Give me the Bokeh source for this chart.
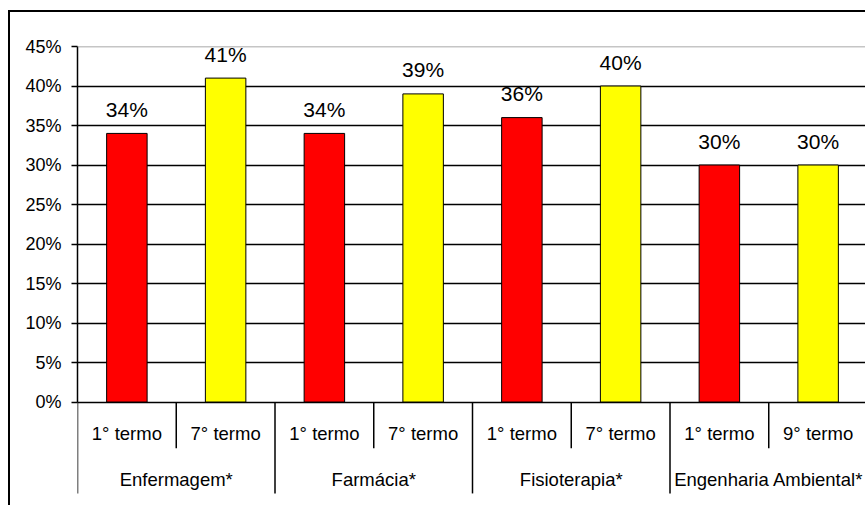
from bokeh.plotting import figure
from bokeh.models import (FactorRange, Range1d, FixedTicker, NumeralTickFormatter,
                          Span, ColumnDataSource)
from bokeh.core.properties import value
from bokeh.embed import file_html
from bokeh.resources import INLINE

# Courses and the school terms surveyed in each
groups = ["Enfermagem*", "Farmácia*", "Fisioterapia*", "Engenharia Ambiental*"]
terms = [["1° termo", "7° termo"],
         ["1° termo", "7° termo"],
         ["1° termo", "7° termo"],
         ["1° termo", "9° termo"]]
# Share per course and term
shares = [0.34, 0.41, 0.34, 0.39, 0.36, 0.40, 0.30, 0.30]
term_colors = ["#FF0000", "#FFFF00"]
y_ticks = [0.0, 0.05, 0.10, 0.15, 0.20, 0.25, 0.30, 0.35, 0.40, 0.45]

FONT_NAME = "Liberation Sans"
FONT = value(FONT_NAME)

factors = [(g, t) for g, ts in zip(groups, terms) for t in ts]
colors = [term_colors[i % 2] for i in range(len(factors))]
labels = [f"{round(s * 100)}%" for s in shares]

src = ColumnDataSource(dict(x=factors, top=shares, color=colors, label=labels,
                            term=[f[1] for f in factors]))

x_range = FactorRange(*factors, factor_padding=0, group_padding=0, range_padding=0)
# the frame continues below 0% to hold the category rows
y_range = Range1d(-0.1335, 0.45)

# the chart box: border on the top and left, offset from the page corner
p = figure(width=857, height=495, x_range=x_range, y_range=y_range,
           output_backend="svg", toolbar_location=None, x_axis_location=None,
           min_border_left=67, min_border_right=0, min_border_top=34,
           min_border_bottom=0, outline_line_color=None,
           background_fill_color="white", border_fill_color="white",
           styles={"border-top": "2px solid black", "border-left": "2px solid black",
                   "margin-left": "8px", "margin-top": "10px"})

# y axis
ax = p.yaxis[0]
ax.ticker = FixedTicker(ticks=y_ticks)
ax.formatter = NumeralTickFormatter(format="0%")
ax.bounds = (0, 0.45)
ax.axis_line_color = "black"
ax.axis_line_width = 1.5
ax.major_tick_line_color = "black"
ax.major_tick_line_width = 1.5
ax.major_tick_out = 6
ax.major_tick_in = 0
ax.minor_tick_line_color = None
ax.major_label_standoff = 10
ax.major_label_text_font = FONT_NAME
ax.major_label_text_font_size = "18px"
ax.major_label_text_color = "black"

p.xgrid.visible = False
p.ygrid.ticker = FixedTicker(ticks=y_ticks)
p.ygrid.grid_line_color = "black"
p.ygrid.grid_line_width = 1.3

# top edge of the plotting area
p.add_layout(Span(location=0.45, dimension="width", line_color="#8C8C8C", line_width=1.5))

# bars
p.vbar(x="x", top="top", width=0.41, bottom=0, source=src,
       fill_color="color", line_color="black", line_width=1)

# value labels
p.text(x="x", y="top", text="label", source=src, text_font=FONT,
       text_font_size="21px", text_color="black", text_align="center",
       text_baseline="alphabetic", y_offset=-24)

# category separators: short between terms, long between courses
sub_x, grp_x = [], []
for g, ts in zip(groups, terms):
    grp_x.append((g, ts[0], -0.5))
    for t in ts[1:]:
        sub_x.append((g, t, -0.5))
p.segment(x0=sub_x, x1=sub_x, y0=[0] * len(sub_x), y1=[-0.0585] * len(sub_x),
          line_color="black", line_width=1.5)
p.segment(x0=grp_x, x1=grp_x, y0=[0] * len(grp_x), y1=[-0.1157] * len(grp_x),
          line_color="black", line_width=1.5)

# term and course labels
p.text(x="x", y=-0.0394, text="term", source=src, text_font=FONT,
       text_font_size="18.5px", text_color="black", text_align="center",
       text_baseline="middle")
grp_center = [(g, ts[0], 0.5) for g, ts in zip(groups, terms)]
p.text(x=grp_center, y=[-0.0979] * len(groups), text=groups, text_font=FONT,
       text_font_size="18.5px", text_color="black", text_align="center",
       text_baseline="middle")

open("out.html", "w").write(file_html(p, INLINE))
